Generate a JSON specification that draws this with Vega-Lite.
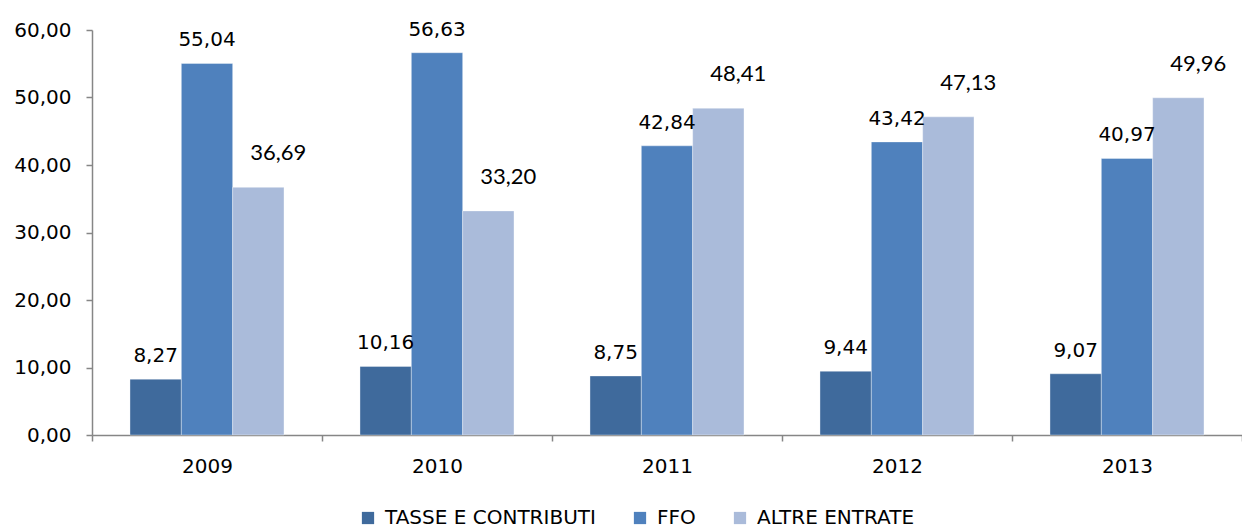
{
  "$schema": "https://vega.github.io/schema/vega-lite/v6.json",
  "width": 1150,
  "height": 405,
  "autosize": "none",
  "padding": {"left": 92, "top": 30, "right": 0, "bottom": 95},
  "background": "white",
  "config": {
    "view": {"stroke": null},
    "locale": {"number": {"decimal": ",", "thousands": ".", "grouping": [3], "currency": ["€", ""]}},
    "font": "DejaVu Sans"
  },
  "data": {
    "values": [
      {"year": "2009", "serie": "TASSE E CONTRIBUTI", "valore": 8.27},
      {"year": "2009", "serie": "FFO", "valore": 55.04},
      {"year": "2009", "serie": "ALTRE ENTRATE", "valore": 36.69},
      {"year": "2010", "serie": "TASSE E CONTRIBUTI", "valore": 10.16},
      {"year": "2010", "serie": "FFO", "valore": 56.63},
      {"year": "2010", "serie": "ALTRE ENTRATE", "valore": 33.20},
      {"year": "2011", "serie": "TASSE E CONTRIBUTI", "valore": 8.75},
      {"year": "2011", "serie": "FFO", "valore": 42.84},
      {"year": "2011", "serie": "ALTRE ENTRATE", "valore": 48.41},
      {"year": "2012", "serie": "TASSE E CONTRIBUTI", "valore": 9.44},
      {"year": "2012", "serie": "FFO", "valore": 43.42},
      {"year": "2012", "serie": "ALTRE ENTRATE", "valore": 47.13},
      {"year": "2013", "serie": "TASSE E CONTRIBUTI", "valore": 9.07},
      {"year": "2013", "serie": "FFO", "valore": 40.97},
      {"year": "2013", "serie": "ALTRE ENTRATE", "valore": 49.96}
    ]
  },
  "encoding": {
    "x": {
      "field": "year", "type": "nominal",
      "scale": {"paddingInner": 0, "paddingOuter": 0},
      "axis": {
        "title": null, "labelAngle": 0, "labelFontSize": 20, "labelColor": "#000000",
        "labelPadding": 15, "tickBand": "extent", "tickSize": 6, "tickColor": "#868686",
        "domainColor": "#868686", "domainWidth": 1.5, "tickWidth": 1.5, "labelFont": "DejaVu Sans"
      }
    },
    "xOffset": {"field": "serie", "type": "nominal", "sort": ["TASSE E CONTRIBUTI", "FFO", "ALTRE ENTRATE"], "scale": {"paddingInner": 0, "paddingOuter": 0.74}},
    "y": {
      "field": "valore", "type": "quantitative",
      "scale": {"domain": [0, 60], "nice": false},
      "axis": {
        "title": null, "values": [0, 10, 20, 30, 40, 50, 60], "format": ".2f", "grid": false,
        "labelFontSize": 20, "labelColor": "#000000", "labelPadding": 15, "tickSize": 6,
        "tickColor": "#868686", "domainColor": "#868686", "domainWidth": 1.5, "tickWidth": 1.5,
        "labelFont": "DejaVu Sans"
      }
    }
  },
  "layer": [
    {
      "mark": {"type": "bar", "stroke": "#ffffff", "strokeWidth": 0.6, "strokeOpacity": 0.6},
      "encoding": {
        "color": {
          "field": "serie", "type": "nominal",
          "scale": {"domain": ["TASSE E CONTRIBUTI", "FFO", "ALTRE ENTRATE"], "range": ["#3F6A9C", "#4F81BD", "#AABBDA"]},
          "legend": {
            "title": null, "orient": "none", "legendX": 266, "legendY": 478, "direction": "horizontal",
            "symbolType": "square", "symbolSize": 150, "symbolStrokeWidth": 0, "labelFontSize": 20,
            "labelColor": "#000000", "columnPadding": 34, "labelOffset": 7, "labelFont": "DejaVu Sans",
            "labelLimit": 0
          }
        }
      }
    },
    {
      "transform": [{"filter": "datum.serie != 'ALTRE ENTRATE'"}],
      "mark": {"type": "text", "baseline": "bottom", "dy": -13, "fontSize": 20, "color": "#000000"},
      "encoding": {"text": {"field": "valore", "type": "quantitative", "format": ".2f"}}
    },
    {
      "transform": [{"filter": "datum.serie == 'ALTRE ENTRATE'"}],
      "mark": {"type": "text", "baseline": "bottom", "dy": -22, "dx": 20, "fontSize": 22, "font": "Lato", "color": "#000000"},
      "encoding": {"text": {"field": "valore", "type": "quantitative", "format": ".2f"}}
    }
  ]
}
